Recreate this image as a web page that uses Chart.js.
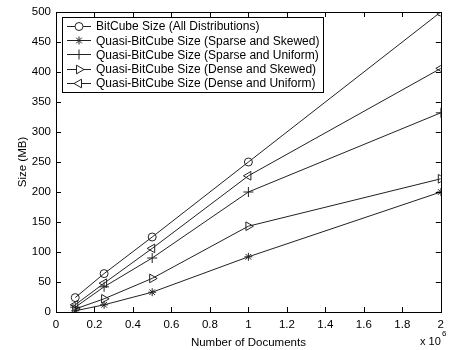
<!DOCTYPE html>
<html>
<head>
<meta charset="utf-8">
<script src="https://cdn.jsdelivr.net/npm/chart.js@4/dist/chart.umd.min.js"></script>
<style>
  html, body { margin: 0; padding: 0; background: #fff; }
  #wrap { width: 450px; height: 350px; }
</style>
</head>
<body>
<div id="wrap"><canvas id="sizeChart" width="450" height="350"></canvas></div>
<script>
// documents in millions (x 10^6)
const docs = [0.1, 0.25, 0.5, 1, 2];

const seriesNames = [
    "BitCube Size (All Distributions)",
    "Quasi-BitCube Size (Sparse and Skewed)",
    "Quasi-BitCube Size (Sparse and Uniform)",
    "Quasi-BitCube Size (Dense and Skewed)",
    "Quasi-BitCube Size (Dense and Uniform)"
];

const bitcube = [24, 64, 125, 250, 500];
const sparseSkewed = [2, 12, 33, 92, 200];
const sparseUniform = [8, 42, 90, 200, 332];
const denseSkewed = [5, 22, 56, 143, 222];
const denseUniform = [12, 48, 106, 227, 406];

const xTicks = [0, 0.2, 0.4, 0.6, 0.8, 1, 1.2, 1.4, 1.6, 1.8, 2];
const yTicks = [0, 50, 100, 150, 200, 250, 300, 350, 400, 450, 500];

const FONT = "'Liberation Sans', Arial, sans-serif";
const INK = "#222";

// marker style for each series
const markers = [
    { pointStyle: "circle", radius: 4, rotation: 0 },
    { pointStyle: "star", radius: 4, rotation: 0 },
    { pointStyle: "cross", radius: 5, rotation: 0 },
    { pointStyle: "triangle", radius: 5, rotation: 90 },
    { pointStyle: "triangle", radius: 5, rotation: -90 }
];

function makeSet(i, values) {
    return {
        label: seriesNames[i],
        data: docs.map((d, k) => ({ x: d, y: values[k] })),
        borderColor: INK,
        borderWidth: 1,
        pointStyle: markers[i].pointStyle,
        pointRadius: markers[i].radius,
        pointRotation: markers[i].rotation,
        pointBorderColor: INK,
        pointBackgroundColor: "rgba(0,0,0,0)",
        pointBorderWidth: 1,
        tension: 0
    };
}

// box, inward ticks on all sides, legend and the x 10^6 note
const framePlugin = {
    id: "frame",
    afterDraw(chart) {
        const ctx = chart.ctx;
        const a = chart.chartArea;
        const xs = chart.scales.x, ys = chart.scales.y;
        ctx.save();
        ctx.strokeStyle = "#000";
        ctx.lineWidth = 1;
        ctx.strokeRect(Math.round(a.left) + 0.5, Math.round(a.top) + 0.5,
            Math.round(a.right - a.left), Math.round(a.bottom - a.top));

        const tl = 5;
        ctx.beginPath();
        xTicks.forEach(v => {
            const px = Math.round(xs.getPixelForValue(v)) + 0.5;
            ctx.moveTo(px, a.bottom); ctx.lineTo(px, a.bottom - tl);
            ctx.moveTo(px, a.top); ctx.lineTo(px, a.top + tl);
        });
        yTicks.forEach(v => {
            const py = Math.round(ys.getPixelForValue(v)) + 0.5;
            ctx.moveTo(a.left, py); ctx.lineTo(a.left + tl, py);
            ctx.moveTo(a.right, py); ctx.lineTo(a.right - tl, py);
        });
        ctx.stroke();

        // legend
        const lx = 62, ly = 17, lw = 261, lh = 75;
        ctx.fillStyle = "#fff";
        ctx.fillRect(lx, ly, lw, lh);
        ctx.strokeRect(lx + 0.5, ly + 0.5, lw, lh);
        ctx.font = "12px " + FONT;
        ctx.textBaseline = "middle";
        ctx.textAlign = "left";
        seriesNames.forEach((name, i) => {
            const y = ly + 9 + i * 14.2;
            ctx.strokeStyle = INK;
            ctx.beginPath();
            ctx.moveTo(67, Math.round(y) + 0.5);
            ctx.lineTo(91, Math.round(y) + 0.5);
            ctx.stroke();
            ctx.fillStyle = "#fff";
            Chart.helpers.drawPoint(ctx, {
                pointStyle: markers[i].pointStyle,
                radius: markers[i].radius,
                rotation: markers[i].rotation,
                borderWidth: 1
            }, 79, Math.round(y) + 0.5);
            ctx.fillStyle = "#000";
            ctx.fillText(name, 96, y + 1);
        });

        // exponent note
        ctx.fillStyle = "#000";
        ctx.font = "11px " + FONT;
        ctx.textAlign = "left";
        ctx.fillText("x 10", 420, 342);
        ctx.font = "8px " + FONT;
        ctx.fillText("6", 442, 334);
        ctx.restore();
    }
};

const ctx = document.getElementById("sizeChart").getContext("2d");

new Chart(ctx, {
    type: "line",
    data: {
        datasets: [
            makeSet(0, bitcube),
            makeSet(1, sparseSkewed),
            makeSet(2, sparseUniform),
            makeSet(3, denseSkewed),
            makeSet(4, denseUniform)
        ]
    },
    options: {
        responsive: false,
        animation: false,
        layout: { padding: { top: 12, right: 3, left: 0, bottom: 0 } },
        plugins: {
            legend: { display: false },
            tooltip: { enabled: false }
        },
        scales: {
            x: {
                type: "linear",
                min: 0,
                max: 2,
                afterBuildTicks: s => { s.ticks = xTicks.map(v => ({ value: v })); },
                afterFit: s => { s.height = 38; },
                grid: { display: false, drawTicks: false },
                border: { display: false },
                ticks: {
                    color: "#000",
                    padding: 6,
                    maxRotation: 0,
                    autoSkip: false,
                    font: { family: FONT, size: 11.5 },
                    callback: v => String(Math.round(v * 10) / 10)
                },
                title: {
                    display: true,
                    text: "Number of Documents",
                    color: "#000",
                    padding: { top: 0, bottom: 0 },
                    font: { family: FONT, size: 11.5 }
                }
            },
            y: {
                type: "linear",
                min: 0,
                max: 500,
                afterBuildTicks: s => { s.ticks = yTicks.map(v => ({ value: v })); },
                afterFit: s => { s.width = 56; },
                grid: { display: false, drawTicks: false },
                border: { display: false },
                ticks: {
                    color: "#000",
                    padding: 5,
                    autoSkip: false,
                    font: { family: FONT, size: 11.5 }
                },
                title: {
                    display: true,
                    text: "Size (MB)",
                    color: "#000",
                    padding: { top: 16, bottom: 6 },
                    font: { family: FONT, size: 11.5 }
                }
            }
        }
    },
    plugins: [framePlugin]
});
</script>
</body>
</html>
